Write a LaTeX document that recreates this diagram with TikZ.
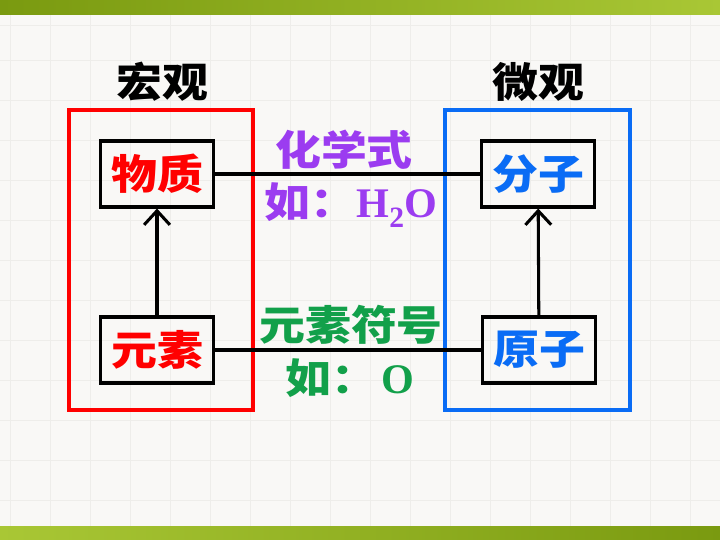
\documentclass[tikz,border=0pt]{standalone}
\usepackage{fontspec}
\setmainfont{Liberation Serif}
\newfontfamily\cjk{Noto Sans CJK SC}
\usetikzlibrary{arrows.meta}
\definecolor{macrored}{HTML}{FF0000}
\definecolor{microblue}{HTML}{0A6CF5}
\definecolor{formulapurple}{HTML}{9B3CF0}
\definecolor{symbolgreen}{HTML}{12A04A}
\definecolor{paper}{HTML}{F9F8F6}
\definecolor{gridline}{HTML}{EEEDEA}
\definecolor{banddark}{HTML}{7A9A10}
\definecolor{bandlight}{HTML}{A9C735}
\newcommand{\zh}[1]{\scalebox{1.12}[1]{\cjk\bfseries\fontsize{35}{38}\selectfont #1}}
\begin{document}
\begin{tikzpicture}[x=0.03cm,y=-0.03cm,
    frame/.style={line width=4.2pt},
    term/.style={draw,line width=2.6pt,minimum width=3.4cm,minimum height=1.98cm,inner sep=0pt},
    link/.style={line width=2.6pt},
    up/.style={line width=2.6pt,-{Straight Barb[length=12pt,width=22pt,line width=2.6pt]}}]
    \useasboundingbox (0,0) rectangle (720,540);
    % page
    \fill [paper] (0,0) rectangle (720,540);
    \foreach \gx in {10,50,...,710}
        \draw [gridline,line width=0.8pt] (\gx,15) -- (\gx,526);
    \foreach \gy in {25,60,100,140,180,220,260,300,340,380,420,460,500}
        \draw [gridline,line width=0.8pt] (0,\gy) -- (720,\gy);
    \shade [left color=banddark,right color=bandlight] (0,0) rectangle (720,15);
    \shade [left color=bandlight,right color=banddark] (0,526) rectangle (720,540);
    % frames
    \draw [frame,macrored] (69,110) rectangle (253,410);
    \draw [frame,microblue] (445,110) rectangle (630,410);
    \node (macro) at (162,82) {\zh{宏观}};
    \node (micro) at (538,82) {\zh{微观}};
    % terms
    \node [term,text=macrored] (wuzhi) at (157,174) {\zh{物质}};
    \node [term,text=macrored] (yuansu) at (157,350) {\zh{元素}};
    \node [term,text=microblue] (fenzi) at (538,174) {\zh{分子}};
    \node [term,text=microblue] (yuanzi) at (539,350) {\zh{原子}};
    \draw [up] (yuansu) -- (wuzhi);
    \draw [up] (yuanzi) -- (fenzi);
    \draw [link] (wuzhi) -- (fenzi);
    \draw [link] (yuansu) -- (yuanzi);
    % labels on the links
    \node [formulapurple] (formula) at (344,150) {\zh{化学式}};
    \node [formulapurple] (formulaeg) at (351,205) {\zh{如：}\fontsize{36}{38}\selectfont\textbf{H\textsubscript{2}O}};
    \node [symbolgreen] (symbol) at (351,325) {\zh{元素符号}};
    \node [symbolgreen] (symboleg) at (350,378) {\zh{如：}\hspace{0.4em}\fontsize{36}{38}\selectfont\textbf{O}};
\end{tikzpicture}
\end{document}
